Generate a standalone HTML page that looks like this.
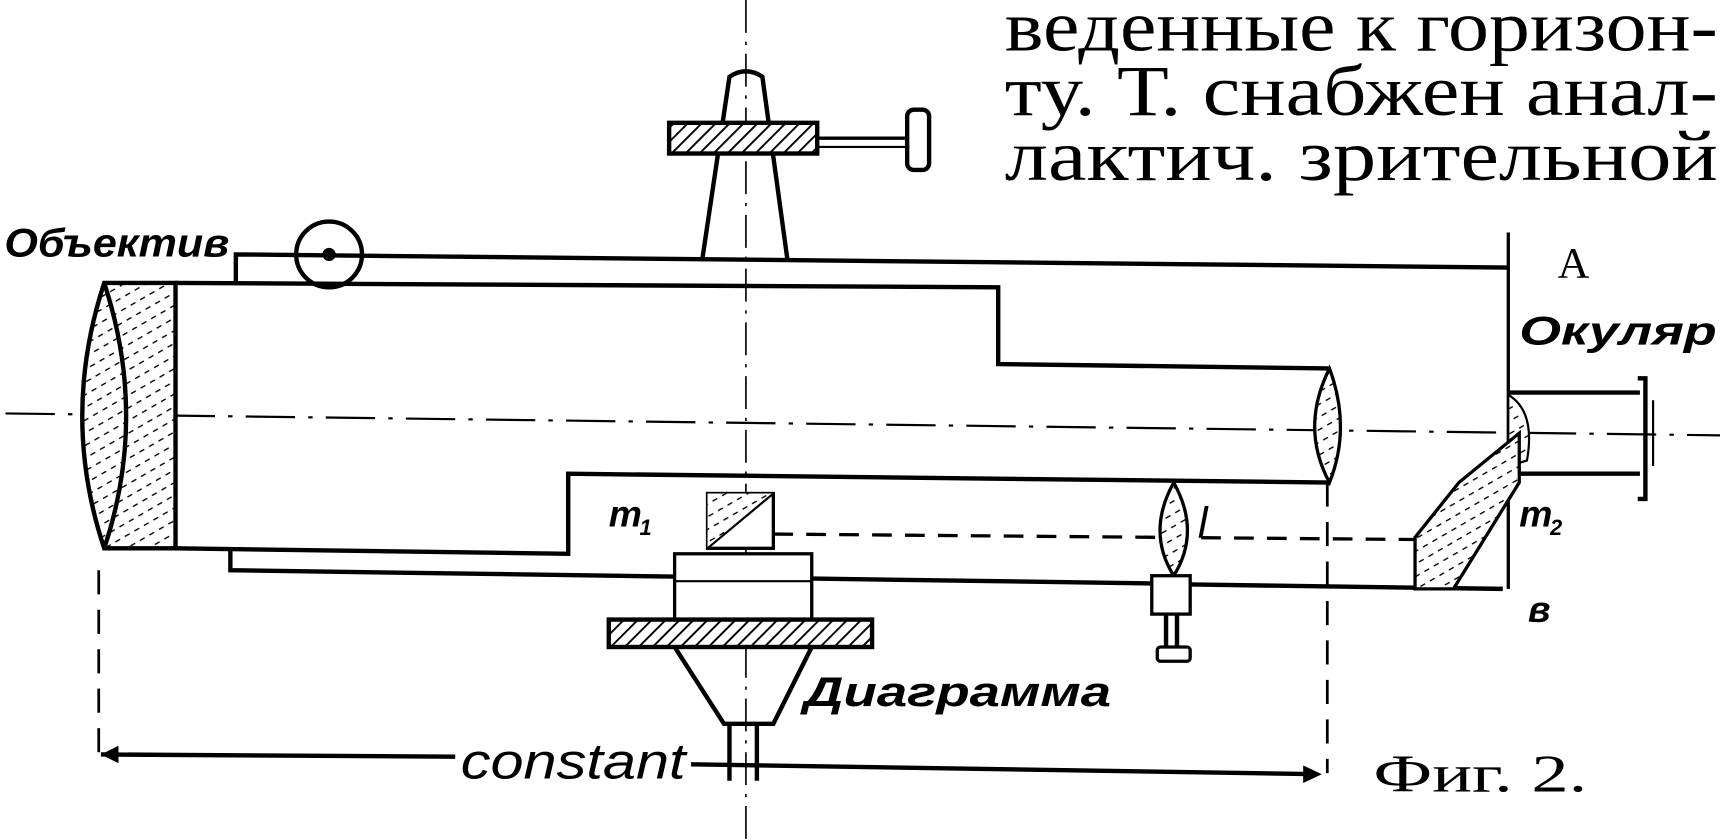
<!DOCTYPE html>
<html><head><meta charset="utf-8"><style>
html,body{margin:0;padding:0;background:#fff;}
svg{display:block}
.s{fill:none;stroke:#000;stroke-width:4}
.t{font-family:"Liberation Serif","DejaVu Serif",serif;fill:#000}
.i{font-family:"Liberation Sans","DejaVu Sans",sans-serif;font-style:italic;font-weight:bold;fill:#000}
</style></head><body>
<svg width="1720" height="840" viewBox="0 0 1568 766" preserveAspectRatio="none">
<defs>
<pattern id="h" width="9" height="9" patternUnits="userSpaceOnUse" patternTransform="rotate(45)">
<rect width="9" height="9" fill="#fff"/><line x1="0" y1="0" x2="0" y2="9" stroke="#000" stroke-width="3.5"/></pattern>
<pattern id="d" width="10" height="10" patternUnits="userSpaceOnUse" patternTransform="rotate(60)">
<rect width="10" height="10" fill="#fff"/><line x1="0" y1="1" x2="0" y2="6" stroke="#000" stroke-width="2.5"/></pattern>
</defs>
<text class="t" x="916" y="46" font-size="66" textLength="650" lengthAdjust="spacingAndGlyphs">веденные к горизон-</text>
<text class="t" x="916" y="105" font-size="66" textLength="650" lengthAdjust="spacingAndGlyphs">ту. Т. снабжен анал-</text>
<text class="t" x="916" y="164" font-size="66" textLength="650" lengthAdjust="spacingAndGlyphs">лактич. зрительной</text>
<!-- axes -->
<line x1="680" y1="0" x2="680" y2="766" stroke="#000" stroke-width="1.5" stroke-dasharray="30,8,3,8"/>
<line x1="5" y1="377" x2="1568" y2="397" stroke="#000" stroke-width="2" stroke-dasharray="45,12,4,12"/>
<!-- top stand -->
<path class="s" d="M640 238 L665 70 Q680 60 695 70 L718 238"/>
<rect x="610" y="112" width="135" height="28" fill="url(#h)" stroke="#000" stroke-width="4"/>
<line x1="745" y1="126" x2="828" y2="126" stroke="#000" stroke-width="3"/>
<line x1="745" y1="134" x2="828" y2="134" stroke="#000" stroke-width="2"/>
<rect x="827" y="100" width="20" height="55" rx="6" fill="#fff" stroke="#000" stroke-width="4"/>
<!-- tube outer top -->
<path class="s" d="M215 258 L215 232 L1375 244"/>
<circle cx="300" cy="232" r="30" class="s" stroke-width="2.5"/>
<circle cx="300" cy="232" r="6" fill="#000"/>
<line x1="1375" y1="212" x2="1375" y2="537" stroke="#000" stroke-width="3"/>
<!-- inner tube -->
<path class="s" d="M160 258 L910 262 L910 332 L1212 336"/>
<path class="s" d="M160 500 L518 505 L518 432 L1212 440"/>
<path d="M1212 336 Q1185 390 1212 440 Q1232 390 1212 336Z" fill="url(#d)" stroke="#000" stroke-width="3"/>
<!-- objective -->
<path d="M95 258 L160 258 L160 500 L95 500 Q55 380 95 258Z" fill="url(#d)" stroke="#000" stroke-width="4"/>
<path d="M95 258 Q135 380 95 500" class="s" stroke-width="2"/>
<!-- lower line -->
<path class="s" d="M210 500 L210 520 L1050 532"/>
<path class="s" d="M1085 533 L1370 537"/>
<!-- eyepiece -->
<path class="s" d="M1375 358 L1495 358 M1375 432 L1495 432"/>
<path class="s" d="M1493 345 L1500 345 L1500 455 L1493 455" stroke-width="5"/>
<line x1="1507" y1="365" x2="1507" y2="425" stroke="#000" stroke-width="2"/>
<path d="M1375 360 Q1400 375 1392 420 L1375 425Z" fill="url(#d)" stroke="#000" stroke-width="2"/>
<!-- prism m2 -->
<polygon points="1330,440 1385,395 1385,440 1325,537 1290,537 1290,490" fill="url(#d)" stroke="#000" stroke-width="3"/>
<!-- m1 -->
<rect x="645" y="450" width="60" height="50" fill="#fff" stroke="#000" stroke-width="3"/>
<polygon points="645,450 705,450 645,500" fill="url(#d)"/>
<line x1="705" y1="450" x2="645" y2="500" stroke="#000" stroke-width="2"/>
<!-- dashed path -->
<line x1="705" y1="487" x2="1290" y2="492" stroke="#000" stroke-width="3" stroke-dasharray="18,12"/>
<!-- lens l -->
<path d="M1070 440 Q1045 485 1070 525 Q1095 485 1070 440Z" fill="url(#d)" stroke="#000" stroke-width="3"/>
<rect x="1050" y="525" width="35" height="35" fill="#fff" stroke="#000" stroke-width="3"/>
<path class="s" d="M1063 560 L1063 592 M1073 560 L1073 592" stroke-width="3"/>
<rect x="1055" y="590" width="30" height="13" rx="3" fill="#fff" stroke="#000" stroke-width="3"/>
<!-- lower stand -->
<rect x="615" y="505" width="125" height="60" fill="#fff" stroke="#000" stroke-width="3"/>
<line x1="615" y1="530" x2="740" y2="530" stroke="#000" stroke-width="2"/>
<rect x="555" y="565" width="240" height="25" fill="url(#h)" stroke="#000" stroke-width="4"/>
<path class="s" d="M615 590 L660 660 L705 660 L740 590" stroke-width="3"/>
<path class="s" d="M665 660 L665 712 M690 660 L690 712" stroke-width="2"/>
<!-- dashed verticals -->
<line x1="90" y1="520" x2="90" y2="690" stroke="#000" stroke-width="2.5" stroke-dasharray="22,14"/>
<line x1="1210" y1="440" x2="1210" y2="705" stroke="#000" stroke-width="2.5" stroke-dasharray="22,14"/>
<!-- constant arrow -->
<path class="s" d="M92 688 L415 690 M630 697 L1200 706" stroke-width="3"/>
<path d="M92 688 L108 680 L108 696Z" fill="#000"/>
<path d="M1205 706 L1188 698 L1188 714Z" fill="#000"/>
<text class="i" x="420" y="710" font-size="46" style="font-weight:normal" textLength="205" lengthAdjust="spacingAndGlyphs">constant</text>
<!-- labels -->
<text class="i" x="4" y="234" font-size="36" textLength="205" lengthAdjust="spacingAndGlyphs">Объектив</text>
<text class="t" x="1420" y="253" font-size="40">A</text>
<text class="i" x="1385" y="314" font-size="36" textLength="180" lengthAdjust="spacingAndGlyphs">Окуляр</text>
<text class="i" x="555" y="480" font-size="34">m</text>
<text class="i" x="583" y="488" font-size="20">1</text>
<text class="i" x="1092" y="490" font-size="40" style="font-weight:normal">l</text>
<text class="i" x="1385" y="480" font-size="34">m</text>
<text class="i" x="1413" y="488" font-size="20">2</text>
<text class="i" x="1393" y="567" font-size="34">в</text>
<text class="i" x="733" y="644" font-size="38" textLength="280" lengthAdjust="spacingAndGlyphs">Диаграмма</text>
<text class="t" x="1252" y="722" font-size="48" textLength="195" lengthAdjust="spacingAndGlyphs">Фиг. 2.</text>
</svg>
</body></html>
